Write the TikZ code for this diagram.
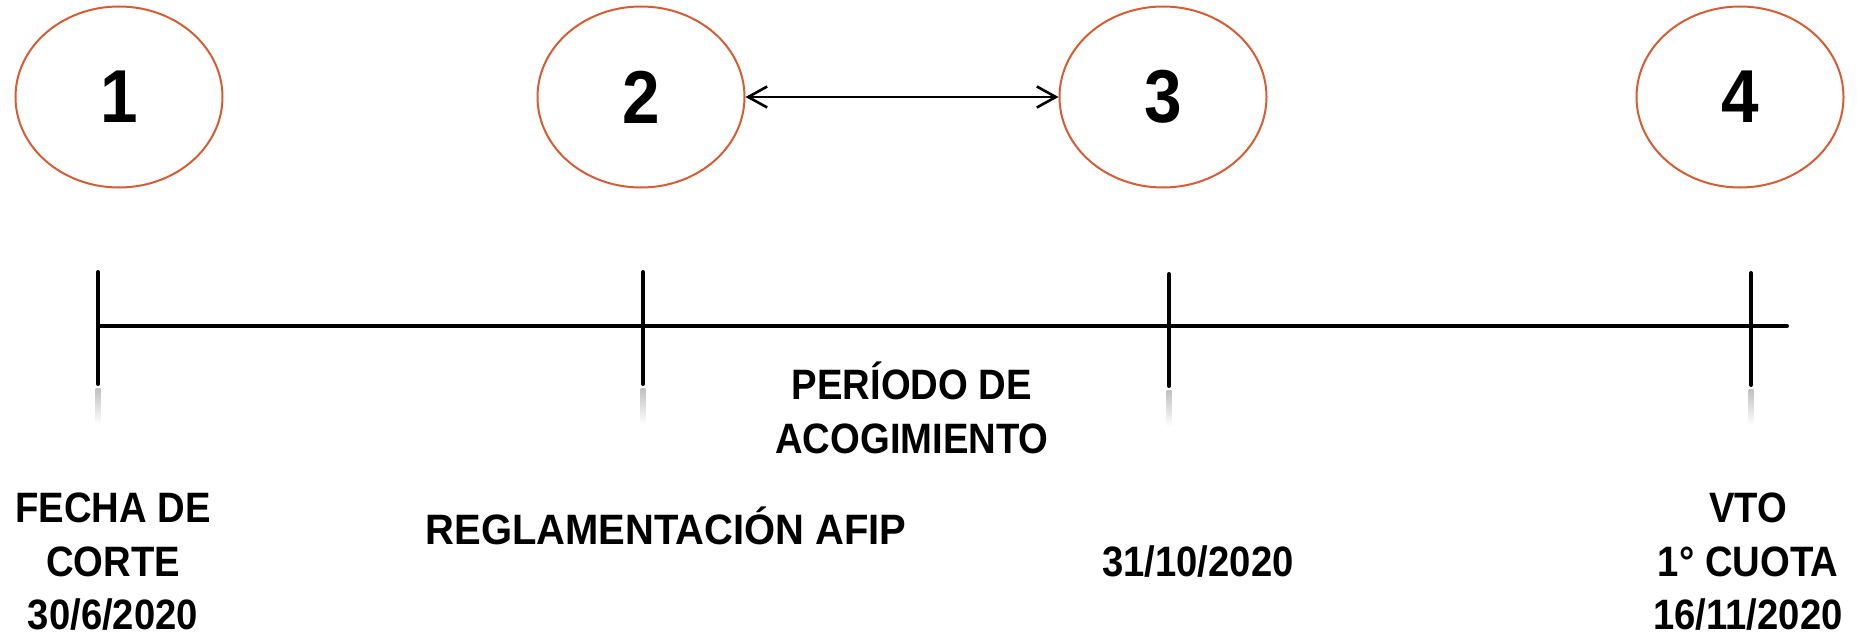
\documentclass[tikz,border=0pt]{standalone}
\usepackage{fontspec}
\setmainfont{Liberation Sans}[FakeStretch=0.9]
\usetikzlibrary{arrows.meta,shapes.geometric}
\definecolor{ellcol}{RGB}{214,92,52}
\tikzset{
  numell/.style={draw=ellcol, line width=2pt, ellipse, minimum width=207pt, minimum height=181pt, inner sep=0pt,
    font=\fontsize{75}{80}\selectfont\bfseries},
  lbl/.style={align=center, font=\fontsize{42.5}{53.5}\selectfont\bfseries, inner sep=0pt},
  tline/.style={line width=4pt, line cap=round},
  refl/.style={top color=black!25, bottom color=white, draw=none},
}
\begin{document}
\begin{tikzpicture}[x=1pt,y=-1pt]
\useasboundingbox (0,0) rectangle (1866,642);
% ellipses
\node[numell] (e1) at (119,97) {1};
\node[numell] (e2) at (641,97) {2};
\node[numell] (e3) at (1163,97) {3};
\node[numell] (e4) at (1740,97) {4};
\draw[line width=2.6pt, {Straight Barb[length=19pt,width=21pt]}-{Straight Barb[length=19pt,width=21pt]}] (e2.east) -- (e3.west);
% timeline
\coordinate (ls) at (98,326);
\coordinate (le) at (1787,326);
\coordinate (t1a) at (98,272); \coordinate (t1b) at (98,384);
\coordinate (t2a) at (643,272); \coordinate (t2b) at (643,384);
\coordinate (t3a) at (1169,274); \coordinate (t3b) at (1169,386);
\coordinate (t4a) at (1751,273); \coordinate (t4b) at (1751,385);
\draw[tline] (ls) -- (le);
\foreach \t in {1,2,3,4}{
  \draw[tline] (t\t a) -- (t\t b);
  \shade[refl] ([xshift=-2.5pt,yshift=-4pt]t\t b) rectangle ([xshift=2.5pt,yshift=-40pt]t\t b);
}
% labels
\node[lbl] (p) at (912,408) {PERÍODO DE\\ACOGIMIENTO};
\node[lbl] (l1) at (113,562) {FECHA DE\\CORTE\\30/6/2020};
\node[lbl] (l2) at (666,526) {\addfontfeature{FakeStretch=0.94}REGLAMENTACIÓN AFIP};
\node[lbl] (l3) at (1198,562) {31/10/2020};
\node[lbl] (l4) at (1748,562) {VTO\\1° CUOTA\\16/11/2020};
\end{tikzpicture}
\end{document}
